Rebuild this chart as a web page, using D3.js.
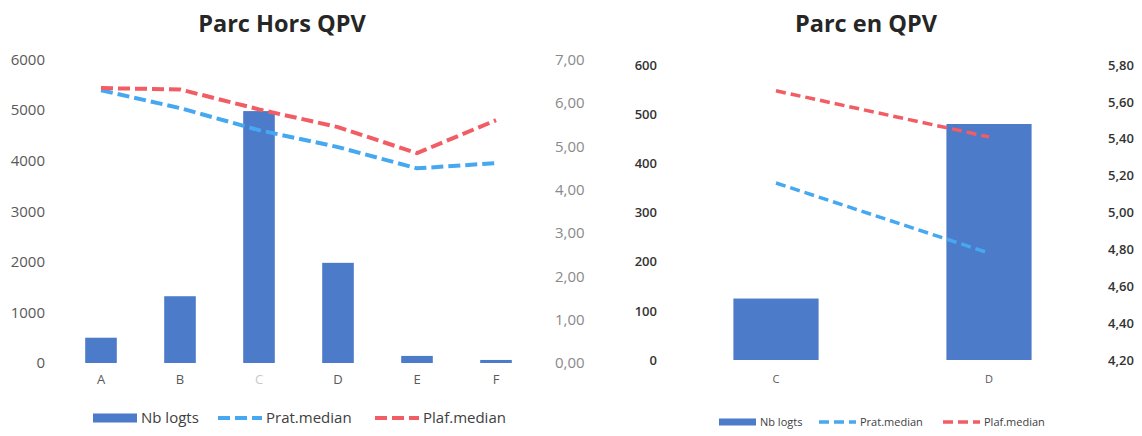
<!DOCTYPE html>
<html>
<head>
<meta charset="utf-8">
<script src="https://cdn.jsdelivr.net/npm/d3@7"></script>
<style>
  html, body { margin: 0; padding: 0; background: #fff; }
  svg { display: block; font-family: "Open Sans", sans-serif; }
</style>
</head>
<body>
<svg id="chart" width="1142" height="436"></svg>
<script>
// Parc Hors QPV
const catsHors = ["A", "B", "C", "D", "E", "F"];
const nbHors = [500, 1320, 4980, 1980, 140, 60];
const pratHors = [6.29, 5.88, 5.37, 4.98, 4.49, 4.61];
const plafHors = [6.34, 6.31, 5.85, 5.44, 4.84, 5.60];
const leftTicksHors = [0, 1000, 2000, 3000, 4000, 5000, 6000];
const rightTicksHors = [0, 1, 2, 3, 4, 5, 6, 7];

// Parc en QPV
const catsQpv = ["C", "D"];
const nbQpv = [125, 480];
const pratQpv = [5.16, 4.78];
const plafQpv = [5.66, 5.41];
const leftTicksQpv = [0, 100, 200, 300, 400, 500, 600];
const rightTicksQpv = [4.2, 4.4, 4.6, 4.8, 5.0, 5.2, 5.4, 5.6, 5.8];

const legendNames = ["Nb logts", "Prat.median", "Plaf.median"];

const BAR = "#4b7bc9";
const PRAT = "#45a8f0";
const PLAF = "#f25c64";

const svg = d3.select("#chart");
const fr = d3.format(",.2f");
const frFR = v => fr(v).replace(".", ",");

function panel(cfg) {
  const g = svg.append("g");

  g.append("text")
    .attr("x", cfg.titleX).attr("y", 32)
    .attr("text-anchor", "middle")
    .attr("font-size", cfg.titleSize).attr("font-weight", 700)
    .attr("fill", "#262626")
    .text(cfg.title);

  const x = d3.scaleBand().domain(cfg.cats).range(cfg.xRange)
    .paddingInner(0.6).paddingOuter(0.3);
  const yL = d3.scaleLinear().domain(cfg.yLDomain).range(cfg.yRange);
  const yR = d3.scaleLinear().domain(cfg.yRDomain).range(cfg.yRange);

  // left axis
  const axL = d3.axisLeft(yL).tickValues(cfg.leftTicks).tickSize(0).tickPadding(0)
    .tickFormat(d3.format("d"));
  const gL = g.append("g").attr("transform", `translate(${cfg.leftAxisX},0)`).call(axL);
  gL.select(".domain").remove();
  gL.selectAll("text").attr("font-size", cfg.tickSize).attr("fill", cfg.leftColor)
    .attr("font-weight", cfg.tickWeight)
    .attr("font-family", "Open Sans, sans-serif");

  // right axis
  const axR = d3.axisRight(yR).tickValues(cfg.rightTicks).tickSize(0).tickPadding(0)
    .tickFormat(frFR);
  const gR = g.append("g").attr("transform", `translate(${cfg.rightAxisX},0)`).call(axR);
  gR.select(".domain").remove();
  gR.selectAll("text").attr("font-size", cfg.tickSize).attr("fill", cfg.rightColor)
    .attr("font-weight", cfg.tickWeight)
    .attr("font-family", "Open Sans, sans-serif");

  // category axis
  const axX = d3.axisBottom(x).tickSize(0).tickPadding(0);
  const gX = g.append("g").attr("transform", `translate(0,${cfg.xLabelY})`).call(axX);
  gX.select(".domain").remove();
  gX.selectAll("text").attr("font-size", cfg.catSize)
    .attr("fill", d => (cfg.fadedCats || []).includes(d) ? "#c9c9c9" : "#595959")
    .attr("font-family", "Open Sans, sans-serif");

  // bars
  g.append("g").selectAll("rect").data(cfg.cats).join("rect")
    .attr("x", d => x(d))
    .attr("width", x.bandwidth())
    .attr("y", (d, i) => yL(cfg.nb[i]))
    .attr("height", (d, i) => yL(0) - yL(cfg.nb[i]))
    .attr("fill", BAR);

  // median lines
  const line = d3.line()
    .x((v, i) => x(cfg.cats[i]) + x.bandwidth() / 2)
    .y(v => yR(v));
  [[cfg.prat, PRAT], [cfg.plaf, PLAF]].forEach(([vals, col]) => {
    g.append("path").datum(vals)
      .attr("d", line)
      .attr("fill", "none")
      .attr("stroke", col)
      .attr("stroke-width", cfg.lineW)
      .attr("stroke-dasharray", cfg.dash);
  });

  // legend
  const lg = g.append("g").attr("transform", `translate(0,${cfg.legendY})`);
  const L = cfg.legend;
  lg.append("rect")
    .attr("x", L.x[0]).attr("y", -L.rectH / 2)
    .attr("width", L.symW).attr("height", L.rectH)
    .attr("fill", BAR);
  [PRAT, PLAF].forEach((col, k) => {
    lg.append("line")
      .attr("x1", L.x[k + 1]).attr("x2", L.x[k + 1] + L.symW)
      .attr("y1", 0).attr("y2", 0)
      .attr("stroke", col).attr("stroke-width", cfg.lineW)
      .attr("stroke-dasharray", cfg.dash);
  });
  legendNames.forEach((name, k) => {
    lg.append("text")
      .attr("x", L.x[k] + L.symW + 4).attr("y", 0)
      .attr("dy", "0.35em")
      .attr("font-size", L.size).attr("fill", "#404040")
      .text(name);
  });
}

panel({
  title: "Parc Hors QPV", titleX: 282, titleSize: 23.5,
  cats: catsHors, nb: nbHors, prat: pratHors, plaf: plafHors,
  xRange: [61.5, 535.5], yRange: [363, 59.5],
  yLDomain: [0, 6000], yRDomain: [0, 7],
  leftTicks: leftTicksHors, rightTicks: rightTicksHors,
  leftAxisX: 45, rightAxisX: 555,
  leftColor: "#595959", rightColor: "#8a8a8a", tickWeight: 400,
  tickSize: 15, catSize: 13, xLabelY: 375,
  fadedCats: ["C"],
  lineW: 4, dash: "12,5",
  legendY: 418,
  legend: { x: [93, 218, 375], symW: 44, rectH: 9, size: 15 }
});

panel({
  title: "Parc en QPV", titleX: 866, titleSize: 23.5,
  cats: catsQpv, nb: nbQpv, prat: pratQpv, plaf: plafQpv,
  xRange: [669.5, 1095.5], yRange: [360, 65],
  yLDomain: [0, 600], yRDomain: [4.2, 5.8],
  leftTicks: leftTicksQpv, rightTicks: rightTicksQpv,
  leftAxisX: 657, rightAxisX: 1108,
  leftColor: "#333333", rightColor: "#333333", tickWeight: 600,
  tickSize: 13, catSize: 11, xLabelY: 375,
  lineW: 3.5, dash: "10,5",
  legendY: 422,
  legend: { x: [719, 819, 943], symW: 37, rectH: 7, size: 11 }
});
</script>
</body>
</html>
